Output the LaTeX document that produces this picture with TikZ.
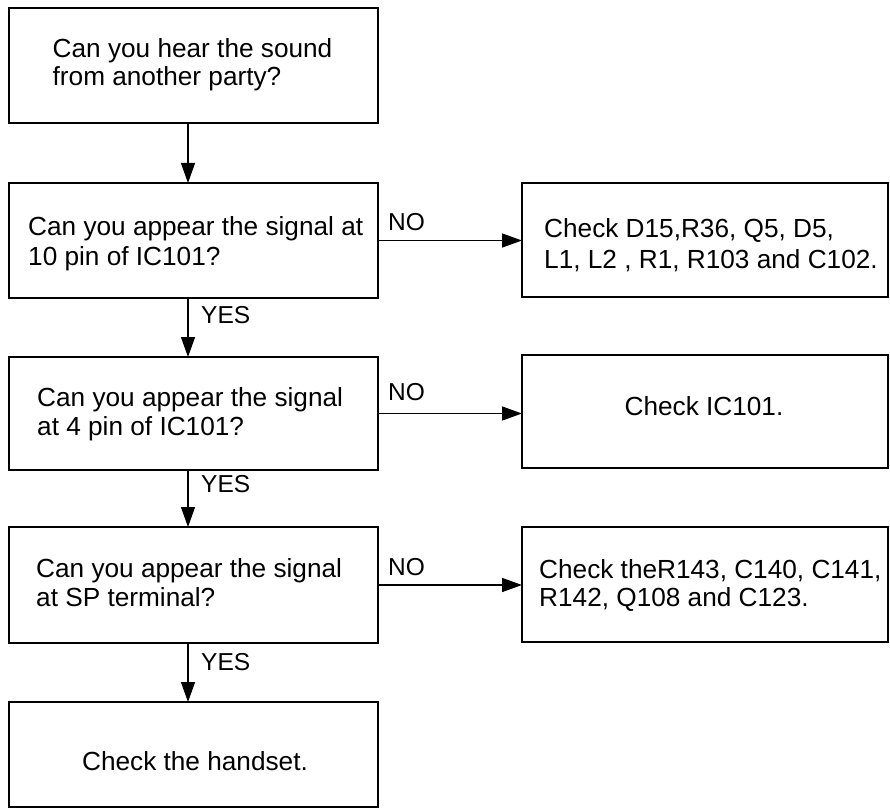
\documentclass[tikz,border=0pt]{standalone}
\usepackage{fontspec}
\setmainfont{Liberation Sans}
\usetikzlibrary{arrows.meta}
\newcommand\twoln[3]{\vtop{\baselineskip=#1pt\hbox{#2}\hbox{#3}}}
\begin{document}
\begin{tikzpicture}[x=1pt,y=-1pt,
 box/.style={draw, line width=1.8pt, inner sep=0pt, outer sep=0pt, anchor=north west},
 txt/.style={inner sep=0pt, anchor=base west, font=\fontsize{26.2}{29}\selectfont},
 ctxt/.style={inner sep=0pt, anchor=base, font=\fontsize{26.2}{29}\selectfont},
 arr/.style={line width=1.4pt, -{Triangle[length=20pt,width=14pt]}},
 lbl/.style={inner sep=0pt, anchor=base west, font=\fontsize{24.5}{29}\selectfont}]
\useasboundingbox (0,0) rectangle (890,810);

% left column boxes
\node[box, minimum width=369pt, minimum height=115pt] (b1) at (9,8) {};
\node[box, minimum width=369pt, minimum height=115pt] (b2) at (9,183) {};
\node[box, minimum width=369pt, minimum height=113pt] (b3) at (9,357) {};
\node[box, minimum width=369pt, minimum height=116pt] (b4) at (9,527) {};
\node[box, minimum width=369pt, minimum height=105pt] (b5) at (9,702) {};

% right column boxes
\node[box, minimum width=366pt, minimum height=114pt] (r1) at (522,183) {};
\node[box, minimum width=366pt, minimum height=113pt] (r2) at (522,355) {};
\node[box, minimum width=366pt, minimum height=115pt] (r3) at (522,527) {};

% texts
\node[txt] (t1) at (52.5,57.5) {\twoln{28}{Can you hear the sound}{from another party?}};
\node[txt] (t2) at (28,235) {\twoln{30}{Can you appear the signal at}{10 pin of IC101?}};
\node[txt] (t3) at (37,406) {\twoln{29}{Can you appear the signal}{at 4 pin of IC101?}};
\node[txt] (t4) at (36,577.5) {\twoln{29}{Can you appear the signal}{at SP terminal?}};
\node[ctxt] (t5) at (195,770) {Check the handset.};
\node[txt] (u1) at (544,237) {\twoln{31}{Check D15,R36, Q5, D5,}{L1, L2 , R1, R103 and C102.}};
\node[ctxt] (u2) at (704,415) {Check IC101.};
\node[txt] (u3) at (539,578) {\twoln{28}{Check theR143, C140, C141,}{R142, Q108 and C123.}};

% vertical arrows
\coordinate (ax) at (188,0);
\draw[arr] (b1.south -| ax) -- (b2.north -| ax);
\draw[arr] (b2.south -| ax) -- (b3.north -| ax);
\draw[arr] (b3.south -| ax) -- (b4.north -| ax);
\draw[arr] (b4.south -| ax) -- (b5.north -| ax);

% horizontal arrows
\draw[arr] (b2.east) -- (b2.east -| r1.west);
\draw[arr] (b3.east) -- (b3.east -| r2.west);
\draw[arr] (b4.east) -- (b4.east -| r3.west);

% labels
\node[lbl] (y1) at (201,323) {YES};
\node[lbl] (y2) at (201,492) {YES};
\node[lbl] (y3) at (201,670) {YES};
\node[lbl] (n1) at (388,230) {NO};
\node[lbl] (n2) at (388,400) {NO};
\node[lbl] (n3) at (388,575) {NO};
\end{tikzpicture}
\end{document}
